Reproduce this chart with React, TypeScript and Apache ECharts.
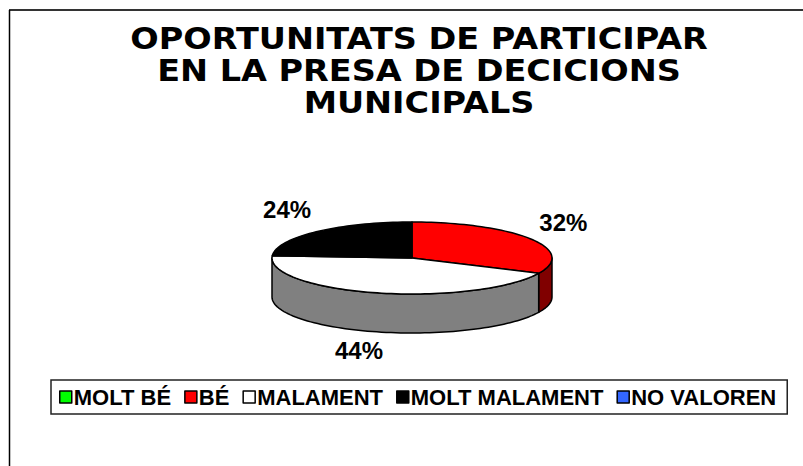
import React, { useEffect, useRef } from "react";
import * as echarts from "echarts";

const TITLE_LINES = ["OPORTUNITATS DE PARTICIPAR", "EN LA PRESA DE DECICIONS", "MUNICIPALS"];
const categories = ["MOLT BÉ", "BÉ", "MALAMENT", "MOLT MALAMENT", "NO VALOREN"];
const values = [0, 32, 44, 24, 0];
const topColors = ["#00FF00", "#FF0000", "#FFFFFF", "#000000", "#3366FF"];
const sideColors = ["#008000", "#800000", "#808080", "#000000", "#1A3380"];

// pie geometry (layout)
const CX = 412;
const CY = 258;
const RX = 140;
const RY = 36;
const DEPTH = 39;

const total = values.reduce((a, b) => a + b, 0);
function sliceRange(i: number): [number, number] {
  let s = 0;
  for (let k = 0; k < i; k++) s += values[k];
  const a1 = (s / total) * 360;
  const a2 = ((s + values[i]) / total) * 360;
  return [a1, a2];
}
function pt(deg: number, dy = 0): number[] {
  const r = (deg * Math.PI) / 180;
  return [CX + RX * Math.sin(r), CY - RY * Math.cos(r) + dy];
}

const sideRender = (params: any, api: any) => {
  const i = params.dataIndex;
  const v = api.value(0);
  if (!v) return null;
  const [a1, a2] = sliceRange(i);
  const lo = Math.max(a1, 90);
  const hi = Math.min(a2, 270);
  if (hi <= lo) return null;
  const pts: number[][] = [];
  const n = Math.max(4, Math.ceil((hi - lo) / 2));
  for (let k = 0; k <= n; k++) pts.push(pt(lo + ((hi - lo) * k) / n));
  for (let k = n; k >= 0; k--) pts.push(pt(lo + ((hi - lo) * k) / n, DEPTH));
  return {
    type: "polygon",
    shape: { points: pts },
    style: { fill: sideColors[i], stroke: "#000", lineWidth: 1.5, lineJoin: "round" },
  };
};

const topRender = (params: any, api: any) => {
  const i = params.dataIndex;
  const v = api.value(0);
  if (!v) return null;
  const [a1, a2] = sliceRange(i);
  const pts: number[][] = [[CX, CY]];
  const n = Math.max(4, Math.ceil((a2 - a1) / 2));
  for (let k = 0; k <= n; k++) pts.push(pt(a1 + ((a2 - a1) * k) / n));
  const mid = ((a1 + a2) / 2) * (Math.PI / 180);
  const s = Math.sin(mid);
  const c = Math.cos(mid);
  const lx = CX + (RX + 25) * s + 12 * Math.sign(s);
  let ly = CY - (RY + 28) * c;
  if (c < 0) ly += DEPTH * -c * 0.8;
  else ly -= 2 * Math.abs(c);
  const pct = Math.round((v / total) * 100) + "%";
  return {
    type: "group",
    children: [
      {
        type: "polygon",
        shape: { points: pts },
        style: { fill: topColors[i], stroke: "#000", lineWidth: 1.5, lineJoin: "round" },
      },
      {
        type: "text",
        x: lx,
        y: ly,
        z2: 10,
        style: {
          text: pct,
          align: "center",
          verticalAlign: "middle",
          fill: "#000",
          font: 'bold 24px "Liberation Sans", Arial, sans-serif',
        },
      },
    ],
  };
};

export default function App() {
  const ref = useRef<HTMLDivElement>(null);
  useEffect(() => {
    if (!ref.current) return;
    const chart = echarts.init(ref.current, null, { renderer: "svg" });
    const data = values.map((v, i) => ({ name: categories[i], value: v }));
    const titleMiddles = [38.5, 70.5, 102.5];
    chart.setOption({
      animation: false,
      backgroundColor: "#fff",
      legend: {
        data: categories,
        left: 51,
        top: 380,
        orient: "horizontal",
        selectedMode: false,
        icon: "rect",
        itemWidth: 12,
        itemHeight: 12,
        itemGap: 13,
        padding: [6, 11, 6, 8],
        borderColor: "#222",
        borderWidth: 1.5,
        backgroundColor: "#fff",
        itemStyle: { borderColor: "#000", borderWidth: 1.5 },
        textStyle: {
          fontFamily: '"Liberation Sans", Arial, sans-serif',
          fontWeight: "bold",
          fontSize: 22,
          color: "#000",
          padding: [0, 0, 0, -3],
        },
      },
      graphic: [
        { type: "line", shape: { x1: 9, y1: 10, x2: 803, y2: 10 }, style: { stroke: "#333", lineWidth: 2 } },
        { type: "line", shape: { x1: 9.5, y1: 10, x2: 9.5, y2: 466 }, style: { stroke: "#000", lineWidth: 1.5 } },
        ...TITLE_LINES.map((t, k) => ({
          type: "text",
          x: 419,
          y: titleMiddles[k],
          scaleX: 1.08,
          style: {
            text: t,
            align: "center",
            verticalAlign: "middle",
            fill: "#000",
            font: 'bold 31px "DejaVu Sans", Verdana, sans-serif',
          },
        })),
      ],
      series: [
        {
          type: "pie",
          radius: [0, 0],
          center: [CX, CY],
          silent: true,
          label: { show: false },
          labelLine: { show: false },
          data: data.map((d, i) => ({ ...d, itemStyle: { color: topColors[i] } })),
        },
        {
          type: "custom",
          name: "sides",
          coordinateSystem: "none",
          silent: true,
          z: 2,
          renderItem: sideRender,
          data: values.map((v) => [v]),
        },
        {
          type: "custom",
          name: "tops",
          coordinateSystem: "none",
          silent: true,
          z: 3,
          renderItem: topRender,
          data: values.map((v) => [v]),
        },
      ],
    });
    return () => chart.dispose();
  }, []);
  return (
    <div
      ref={ref}
      style={{ position: "fixed", left: 0, top: 0, width: 803, height: 466 }}
    />
  );
}
